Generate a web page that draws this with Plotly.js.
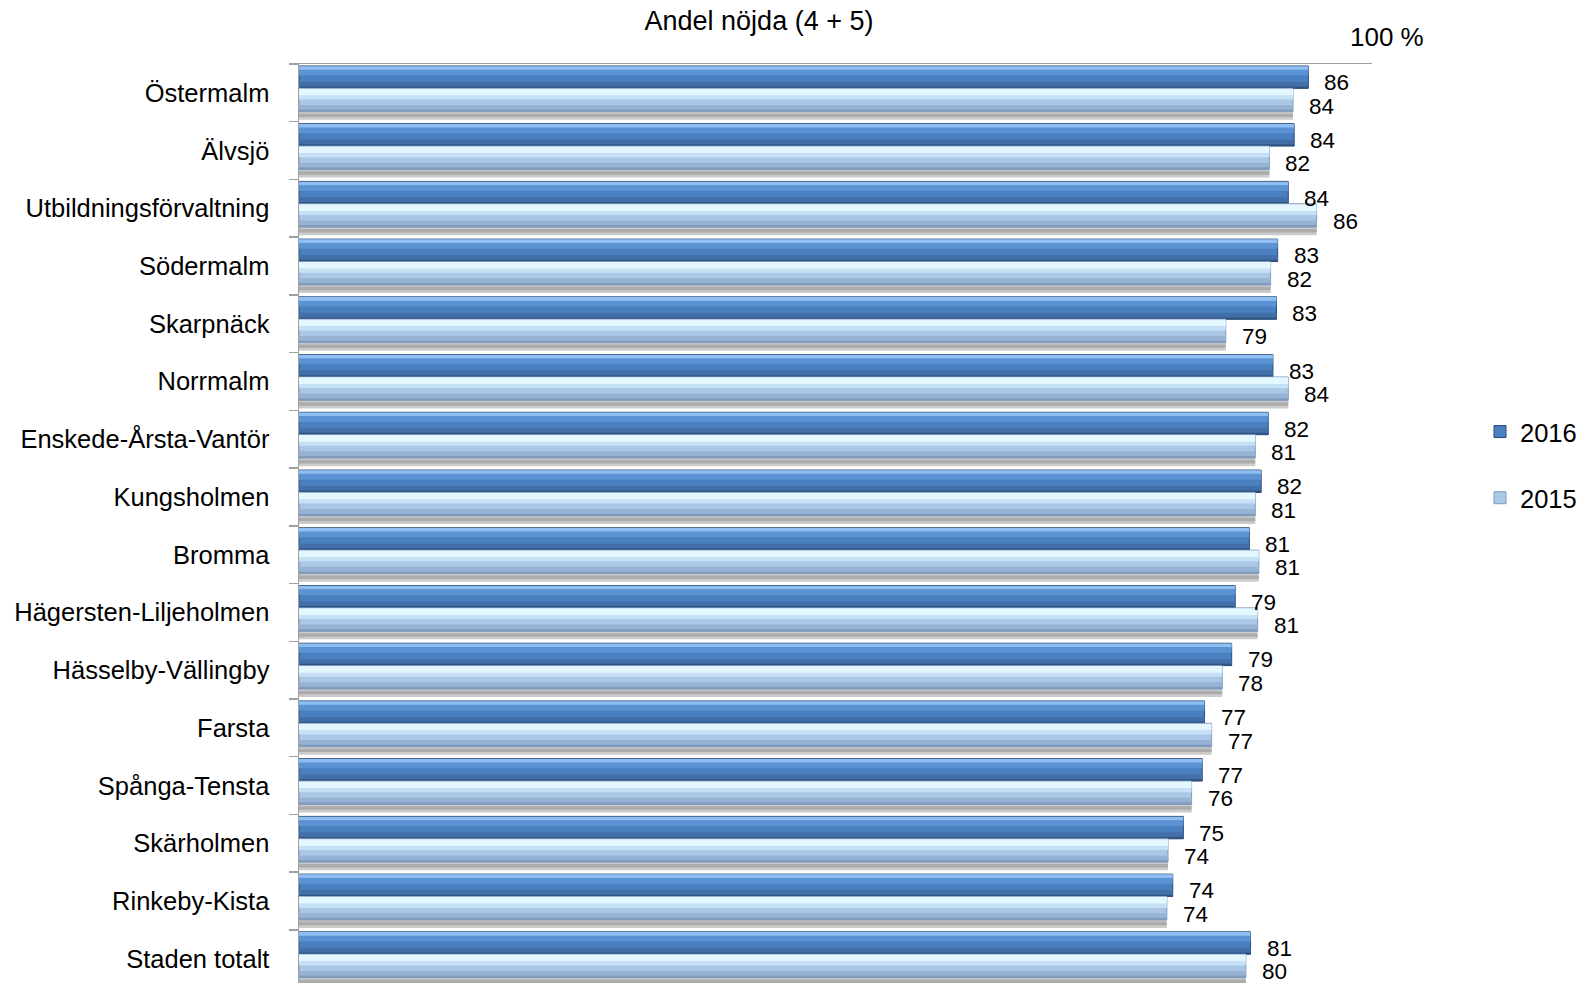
<!DOCTYPE html>
<html>
<head>
<meta charset="utf-8">
<script src="https://cdn.plot.ly/plotly-3.0.1.min.js"></script>
<style>html,body{margin:0;padding:0;background:#fff;}#chart{width:1595px;height:983px;}</style>
</head>
<body>
<div id="chart"></div>
<script>
const categories = ["Östermalm","Älvsjö","Utbildningsförvaltning","Södermalm","Skarpnäck","Norrmalm","Enskede-Årsta-Vantör","Kungsholmen","Bromma","Hägersten-Liljeholmen","Hässelby-Vällingby","Farsta","Spånga-Tensta","Skärholmen","Rinkeby-Kista","Staden totalt"];
const values2016 = [85.6,84.4,83.9,83.0,82.9,82.6,82.2,81.6,80.6,79.4,79.1,76.8,76.6,75.0,74.1,80.7];
const values2015 = [84.3,82.3,86.3,82.4,78.6,83.9,81.1,81.1,81.4,81.3,78.3,77.4,75.7,73.7,73.6,80.3];
const seriesNames = ["2016","2015"];
const chartTitle = "Andel nöjda (4 + 5)";
const maxLabel = "100 %";

const FONT = "Liberation Sans, Arial, Helvetica, sans-serif";
const yIdx = categories.map((c,i)=>i);

function layer(xs, offset, width, color, opts){
  return Object.assign({
    type:'bar', orientation:'h', x: xs, y: yIdx, offset: offset, width: width,
    marker:{color: color, line:{width:0}}, showlegend:false, hoverinfo:'skip'
  }, opts||{});
}

const traces = [
  // shadow under each pair
  layer(values2015, 0.327, 0.14, '#cbcbcb'),
  layer(values2015, 0.36, 0.06, '#acacac'),
  // 2016
  layer(values2016, -0.466, 0.388, '#4f85c6', {name: seriesNames[0], showlegend:true, legendgroup:'a',
        marker:{color:'#4a7fc0', line:{color:'#2c4a70', width:1}}, hoverinfo:'x+name'}),
  layer(values2016, -0.462, 0.07, '#8fbff2'),
  layer(values2016, -0.40, 0.10, '#5b92d4'),
  layer(values2016, -0.19, 0.085, '#436fa8'),
  layer(values2016, -0.11, 0.03, '#2f5283'),
  // 2015
  layer(values2015, -0.078, 0.405, '#abc7e6', {name: seriesNames[1], showlegend:true, legendgroup:'b',
        marker:{color:'#abc7e6', line:{color:'#7d99bd', width:1}}, hoverinfo:'x+name'}),
  layer(values2015, -0.072, 0.12, '#e4f7ff'),
  layer(values2015, 0.045, 0.07, '#c6e0f6'),
  layer(values2015, 0.21, 0.08, '#97b3d4'),
  layer(values2015, 0.29, 0.035, '#8199bb')
];

const annotations = [];
values2016.forEach((v,i)=>{
  annotations.push({x:v, y:i-0.185, xref:'x', yref:'y', text:String(Math.round(v)), showarrow:false, height:20,
    xanchor:'left', yanchor:'middle', xshift:14, font:{family:FONT, size:22.5, color:'#000'}});
});
values2015.forEach((v,i)=>{
  annotations.push({x:v, y:i+0.22, xref:'x', yref:'y', text:String(Math.round(v)), showarrow:false, height:20,
    xanchor:'left', yanchor:'middle', xshift:14, font:{family:FONT, size:22.5, color:'#000'}});
});
annotations.push({x:1.014, y:1.029, xref:'paper', yref:'paper', text:maxLabel, showarrow:false,
  xanchor:'center', yanchor:'middle', font:{family:FONT, size:26, color:'#000'}});

const minorVals = [-0.5].concat(categories.map((c,i)=>i+0.5));

const layout = {
  width:1595, height:983,
  margin:{l:299, r:223, t:64, b:0, pad:0},
  paper_bgcolor:'#fff', plot_bgcolor:'#fff',
  barmode:'overlay',
  font:{family:FONT, color:'#000'},
  title:{text:chartTitle, x:759/1595, xref:'container', xanchor:'center', y:1-21/983, yref:'container', yanchor:'middle',
         font:{family:FONT, size:27, color:'#000'}},
  xaxis:{range:[0,91], side:'top', showline:true, linecolor:'#a0a0a0', linewidth:1.5, showgrid:false, zeroline:false,
         showticklabels:false, ticks:'', fixedrange:true},
  yaxis:{range:[15.42,-0.5], tickmode:'array', tickvals:yIdx, ticktext:categories, ticks:'', showline:true,
         linecolor:'#a0a0a0', linewidth:1.5, showgrid:false, zeroline:false, ticklabelstandoff:23,
         tickfont:{family:FONT, size:25.5, color:'#000'},
         minor:{tickmode:'array', tickvals:minorVals, ticks:'outside', ticklen:9, tickcolor:'#a0a0a0', tickwidth:1.5, showgrid:false}},
  legend:{x:(1480-299)/1073, xanchor:'left', y:1-(465-64)/919, yanchor:'middle', tracegroupgap:30,
          font:{family:FONT, size:25.5, color:'#000'}, bgcolor:'rgba(0,0,0,0)', traceorder:'grouped'},
  annotations: annotations,
  showlegend:true
};

Plotly.newPlot('chart', traces, layout, {displayModeBar:false, staticPlot:true});
</script>
</body>
</html>
